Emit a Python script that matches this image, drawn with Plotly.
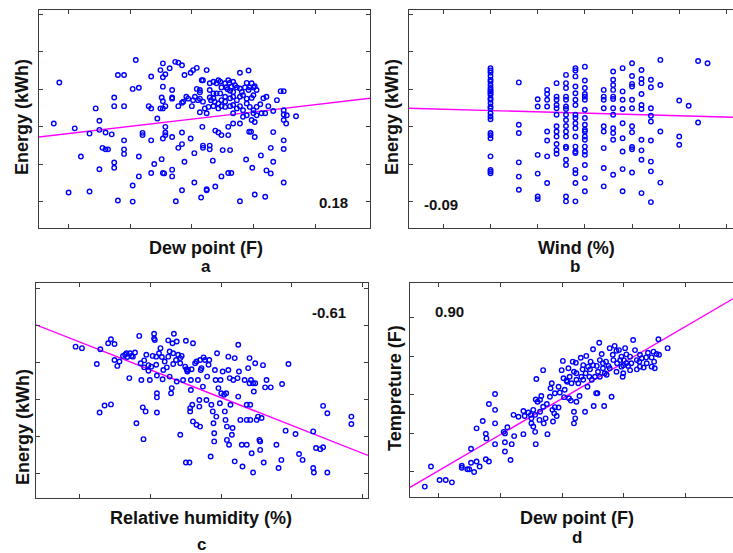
import plotly.graph_objects as go

# ---------------- Panel a: Dew point (F) vs Energy (kWh) ----------------
a_dew = [18.5,17.6,20.0,21.0,22.0,23.4,23.4,24.4,25.0,25.0,25.0,25.5,26.0,26.4,26.0,27.0,27.4,27.4,27.4,27.4,
         28.0,29.0,28.0,29.0,29.0,29.0,29.0,30.4,31.4,30.4,30.4,30.9,31.4,31.4,32.0,32.0,33.4,33.0,33.4,33.4,
         33.4,33.9,34.4,34.9,35.3,35.3,35.7,35.1,35.3,35.7,35.3,34.9,35.3,35.1,35.3,35.3,35.5,35.7,35.7,35.7,
         36.4,36.8,36.8,36.8,36.8,36.8,36.8,37.3,37.8,38.4,37.8,38.4,37.8,38.4,38.4,38.4,38.8,37.4,38.8,39.4,
         39.8,40.2,40.8,39.8,40.0,40.4,40.4,40.8,41.3,41.3,41.3,41.5,41.7,41.8,41.8,42.4,42.4,42.4,42.4,42.9,
         42.9,42.9,43.4,43.8,43.8,44.3,44.8,44.8,45.0,45.9,46.4,45.9,45.9,46.2,46.7,47.8,47.8,47.8,48.8,49.2,
         49.3,49.6,50.2,49.8,50.2,51.2,51.9,52.1,52.8,52.8,53.2,53.2,54.9,54.9,54.9,53.2,53.8,54.4,54.9,54.9,
         54.9,55.4,55.3,54.9,56.9,
         41.6,41.8,42.9,43.5,44.0,44.3,44.6,44.8,45.4,45.9,46.1,46.4,46.7,47.0,47.3,45.6,45.8,46.2,46.7,47.8,
         48.1,48.6,48.9,49.2,49.4,49.7,50.0,50.2,50.5,50.0,49.7,48.9,48.3,47.8,47.3,46.7,46.2,45.4,44.6,44.0,
         43.5,43.7,44.3,44.8,45.4,46.2,46.7,47.3,47.8,48.3,48.9,49.4,50.0,50.5,51.1,51.6,52.1,52.4,51.9,51.3,
         50.5,50.0,49.7,50.2,48.9,48.3,46.7,41.8,42.1,42.7,43.1,43.5,44.3,44.8,45.4,41.3,41.0,40.2,40.5,39.1,
         38.6,43.5,42.9]
a_energy = [51.8,40.9,22.5,39.6,32.1,22.8,38.2,44.9,41.6,39.2,28.7,34.4,34.0,34.0,38.5,38.0,47.8,45.5,30.5,29.1,
            53.8,53.8,20.4,45.5,36.4,34.0,32.8,50.1,50.4,24.4,20.1,57.8,32.1,26.8,38.4,37.8,36.4,45.5,44.9,53.4,
            27.7,30.1,42.2,55.1,56.9,53.2,54.0,47.8,46.8,45.5,44.9,44.9,50.7,31.4,36.9,27.7,27.6,40.0,38.5,37.8,
            55.6,49.8,47.8,47.5,28.6,26.8,37.3,57.3,57.1,56.4,45.5,46.4,34.4,35.4,38.5,23.1,53.8,20.2,30.7,47.5,
            54.4,55.1,55.7,36.9,45.5,25.2,33.0,50.1,49.2,47.5,43.9,21.2,40.0,35.0,34.4,23.4,23.1,55.1,43.6,47.8,
            35.0,34.0,31.0,24.1,39.0,38.5,37.8,26.8,33.8,27.7,27.7,40.0,37.8,33.8,40.9,20.2,40.9,54.4,31.3,55.0,
            38.7,38.7,37.3,29.1,22.0,32.4,21.4,28.4,27.6,34.4,30.7,38.6,25.2,36.4,34.1,44.2,47.1,49.5,49.5,44.4,
            43.3,43.1,40.9,41.8,42.8,
            52.4,52.4,51.6,52.0,51.6,52.4,52.0,50.5,51.6,52.4,51.7,50.7,52.0,51.1,50.5,50.5,50.0,49.6,49.3,50.2,
            49.3,50.5,51.7,49.8,50.5,51.6,50.5,50.8,49.8,48.4,47.7,47.5,48.4,48.0,47.1,48.0,47.6,48.0,48.9,48.9,
            47.6,46.7,46.2,45.5,45.3,45.5,45.8,44.9,45.5,44.4,46.2,45.3,44.4,45.3,46.0,47.6,48.0,45.5,43.6,43.6,
            43.1,43.6,41.8,41.3,43.1,42.7,43.6,46.7,44.9,45.3,47.1,45.5,44.9,47.1,46.7,49.8,47.1,47.1,48.0,48.0,
            46.7,48.9,49.8]
a_fit_x = [15.2, 68.9]
a_fit_y = [37.3, 47.6]
a_r = "0.18"

# ---------------- Panel b: Wind (%) vs Energy (kWh) ----------------
b_wind_levels = [20, 26, 30, 32, 34, 36, 38, 40, 44, 46, 48, 50, 52, 54, 56, 60, 62, 64, 66]
b_energy_by_level = [
    [55.6,55.0,54.4,53.5,52.5,52.0,51.1,50.3,49.8,49.4,48.9,48.5,47.6,47.2,46.3,45.4,44.9,43.6,42.7,42.0,38.3,37.7,36.9,32.1,28.5,28.1,27.6],
    [51.8,40.5,38.3,30.5,26.7,23.2],
    [47.3,45.4,32.5,27.5,21.4,20.7],
    [49.8,48.7,47.2,45.4,38.7,36.3,32.1,25.0],
    [51.6,48.0,47.2,45.8,44.9,43.2,40.1,38.7,37.4,35.4,33.8,32.8],
    [53.8,51.6,50.3,48.0,47.2,45.4,44.7,43.2,41.8,40.2,38.7,37.4,34.7,34.3,31.2,29.8,21.4,20.1],
    [55.6,55.0,53.4,50.7,48.9,47.2,45.8,43.2,42.3,40.9,39.6,37.4,34.7,33.4,33.0,28.5,27.6,25.0,20.1],
    [56.0,52.3,50.3,48.7,48.0,47.2,44.5,42.3,40.5,39.2,38.7,37.4,36.5,34.7,33.4,32.5,29.8,26.3,22.8],
    [49.8,48.0,47.2,44.9,40.1,38.7,34.3,29.0,24.1],
    [54.7,52.5,51.1,49.8,48.0,47.4,44.9,43.2,39.6,38.3,36.5,27.2],
    [55.6,49.4,47.2,44.7,40.9,36.9,33.4,28.7,22.8],
    [56.9,53.5,51.4,50.7,47.2,44.9,40.1,38.5,34.6,34.0,27.8],
    [55.1,52.7,51.6,48.7,45.8,44.7,36.5,33.7,31.2,22.3],
    [52.5,50.5,44.9,42.9,41.4,36.3,30.7,28.1,19.9],
    [57.8,51.1,38.7,25.1],
    [47.0,37.4,35.2],
    [45.6],
    [57.5,41.1],
    [56.9],
]
b_fit_x = [2.7, 71.4]
b_fit_y = [44.9, 42.5]
b_r = "-0.09"

# ---------------- Panel c: Relative humidity (%) vs Energy (kWh) ----------------
c_rh = [29.4,30.3,32.4,32.8,32.9,33.5,34.0,34.4,34.4,34.9,34.9,35.3,35.6,36.1,36.4,36.6,36.7,37.0,37.1,37.3,
        37.5,37.8,38.4,38.6,38.7,38.9,39.0,39.1,39.1,39.3,39.4,38.0,39.7,39.7,39.9,40.1,40.3,40.5,40.5,40.6,
        40.8,40.9,40.9,40.9,40.9,41.2,41.4,41.6,41.7,41.8,42.0,42.3,42.5,42.5,42.7,42.7,42.9,43.0,43.1,43.2,
        43.3,43.6,43.7,43.7,43.9,44.2,44.2,44.4,44.6,44.9,45.0,45.0,45.3,45.5,45.6,45.6,45.7,45.7,45.8,45.9,
        46.0,46.0,46.3,46.5,46.5,46.7,46.9,46.9,47.0,47.0,47.1,47.2,47.4,47.5,47.7,47.9,48.0,48.2,48.3,48.5,
        48.6,48.8,48.9,49.0,49.0,49.1,49.2,49.3,49.4,49.6,49.8,49.9,50.0,50.2,50.4,50.5,50.6,50.7,50.8,50.8,
        51.0,51.0,51.1,51.2,51.3,51.5,51.6,51.7,51.9,51.9,52.3,52.4,52.4,52.5,52.7,52.9,53.0,53.3,53.6,53.6,
        53.6,53.8,54.0,54.0,54.1,54.1,54.2,54.3,54.5,54.5,54.6,54.8,54.8,55.0,55.2,55.4,55.5,55.5,55.7,55.9,
        56.0,56.2,56.4,57.0,57.8,58.1,58.5,58.6,59.1,59.5,60.5,61.0,61.5,63.0,63.0,63.1,63.4,64.0,64.4,64.4,
        65.0,65.0,68.4,68.4,45.1,45.2,40.8,43.2,44.2]
c_energy = [54.2,53.8,49.5,36.4,53.5,38.3,55.1,56.2,38.6,54.9,50.6,49.0,50.2,51.7,52.0,52.4,51.4,45.7,52.4,51.7,
            51.5,52.6,57.1,49.7,45.2,37.8,29.2,48.6,50.5,36.7,52.0,33.5,49.2,47.7,45.2,48.8,51.7,57.7,56.4,56.0,
            49.3,46.4,41.6,40.5,36.4,52.4,53.8,51.4,45.4,47.9,50.2,48.6,55.9,51.5,52.9,46.1,41.6,43.0,55.1,49.5,
            57.7,50.6,55.6,44.8,52.0,30.4,49.7,51.7,45.2,48.8,55.8,22.9,47.9,22.9,37.6,36.7,45.2,42.5,48.1,38.5,
            55.1,34.0,49.7,50.2,33.1,45.2,39.8,38.0,32.6,50.6,47.9,48.4,43.4,51.3,50.6,39.8,46.1,49.3,50.6,24.5,
            38.5,36.7,33.5,28.6,30.8,47.9,45.2,35.3,52.4,43.0,38.9,45.2,41.6,47.5,41.2,36.7,34.4,41.6,32.6,29.0,
            51.5,47.9,27.7,45.7,38.5,30.4,32.2,45.2,51.1,23.2,45.7,40.7,54.7,47.5,34.4,27.7,21.8,45.2,27.7,38.5,
            34.4,48.4,44.3,51.1,38.5,34.4,45.2,25.4,44.3,20.2,42.1,49.7,44.3,34.4,35.3,29.0,28.6,26.3,34.9,49.2,
            22.9,43.2,45.2,43.2,27.7,21.4,23.6,44.1,31.5,49.5,30.6,25.2,23.6,31.3,21.4,20.2,26.8,26.5,27.0,38.2,
            36.2,20.2,35.3,33.3,48.1,47.5,51.5,52.4,51.1]
c_fit_x = [23.8, 70.75]
c_fit_y = [60.1, 24.8]
c_r = "-0.61"

# ---------------- Panel d: Dew point (F) vs Temperature (F) ----------------
d_dew = [17.7,18.7,20.1,21.1,22.1,23.7,23.7,24.6,24.9,25.2,25.2,25.7,26.1,26.6,27.1,26.1,27.6,27.7,27.6,28.1,
         28.1,29.1,29.1,29.1,29.1,30.5,30.7,30.7,30.7,31.1,31.6,31.8,32.1,32.2,32.9,33.7,33.7,33.9,34.5,34.9,
         35.0,35.3,35.3,35.6,35.7,35.7,35.8,36.0,36.3,36.4,36.6,36.9,37.0,37.3,37.6,38.0,38.1,38.3,38.4,38.5,
         38.7,38.8,39.1,39.4,39.6,39.9,40.1,40.3,40.4,40.7,40.8,41.0,41.1,41.4,41.7,41.9,41.9,42.1,42.2,42.3,
         42.3,42.6,42.8,43.0,43.1,43.3,43.4,43.7,43.8,43.9,44.1,44.4,44.6,44.8,45.0,45.1,45.5,45.6,45.7,45.8,
         46.0,46.1,46.4,46.6,46.8,47.1,47.2,47.5,47.7,48.0,48.2,48.5,48.8,48.9,49.2,49.4,49.6,49.8,49.9,50.0,
         50.2,50.4,50.7,51.0,51.2,51.5,51.8,52.1,52.5,52.6,52.9,53.2,53.6,53.9,54.5,54.9,55.0,55.3,55.6,55.7,
         57.1,54.8,43.4,44.2,45.0,46.1,46.9,47.7,48.8,49.6,50.4,51.0,52.1,53.7,52.6,54.5,49.9,48.3,46.6,45.3,
         44.5,42.3,41.5,41.2,41.9,40.2,39.4,38.8,37.5,36.9,36.4,35.6,35.0]
d_temp = [36.2,41.4,37.9,37.9,37.3,41.6,41.1,40.7,40.7,42.4,46.0,40.0,42.7,41.4,53.2,51.3,49.9,48.7,43.3,42.7,
          57.6,47.2,52.6,56.1,60.2,50.4,50.0,47.7,45.3,51.6,43.1,47.2,54.8,49.3,54.3,55.8,49.8,54.5,55.4,54.8,
          52.6,56.1,51.8,50.4,47.2,58.8,64.1,58.2,53.5,58.7,59.7,66.4,52.6,53.9,49.8,59.5,61.7,63.0,56.1,53.1,
          55.2,56.8,54.5,56.7,60.6,66.4,68.8,59.4,61.3,63.7,63.4,66.9,59.1,58.5,68.6,52.6,55.6,53.9,68.3,63.9,
          58.2,63.0,59.7,69.6,64.7,66.6,67.7,55.6,65.6,70.1,62.1,64.7,68.6,63.9,71.8,57.1,60.4,67.5,60.4,66.0,
          73.5,64.7,70.6,68.2,57.1,68.6,65.2,67.5,72.1,59.5,70.4,72.7,71.4,68.2,71.6,69.0,67.3,64.7,65.6,69.0,
          72.1,70.5,67.5,66.4,68.2,74.2,71.6,66.6,68.6,70.4,69.5,67.1,69.7,70.9,69.7,68.6,66.9,70.6,74.4,70.4,
          72.1,71.2,63.9,67.3,67.7,69.0,65.6,66.9,66.0,69.9,68.2,69.9,69.0,68.2,67.3,67.3,67.7,69.0,66.9,64.7,
          66.6,65.6,63.0,64.7,66.0,64.3,62.1,60.4,57.6,56.9,55.6,54.8,53.9]
d_fit_x = [15.3, 67.7]
d_fit_y = [36.0, 84.9]
d_r = "0.90"

# ---------------- Figure ----------------
W, H = 733, 553
FONT = "Liberation Sans, Arial, sans-serif"
BLUE = "#0000ff"
MAGENTA = "#ff00ff"
FRAME = "#3c3c3c"

b_wind, b_energy = [], []
for lv, vals in zip(b_wind_levels, b_energy_by_level):
    for v in vals:
        b_wind.append(lv)
        b_energy.append(v)

fig = go.Figure()

def add_panel(n, xs, ys, fx, fy):
    xa = "x" if n == 1 else f"x{n}"
    ya = "y" if n == 1 else f"y{n}"
    fig.add_trace(go.Scatter(x=fx, y=fy, mode="lines", xaxis=xa, yaxis=ya,
                             line=dict(color=MAGENTA, width=1.4), showlegend=False, hoverinfo="skip"))
    fig.add_trace(go.Scatter(x=xs, y=ys, mode="markers", xaxis=xa, yaxis=ya,
                             marker=dict(symbol="circle-open", size=4.5, color=BLUE, line=dict(width=1.4, color=BLUE)),
                             showlegend=False))

add_panel(1, a_dew, a_energy, a_fit_x, a_fit_y)
add_panel(2, b_wind, b_energy, b_fit_x, b_fit_y)
add_panel(3, c_rh, c_energy, c_fit_x, c_fit_y)
add_panel(4, d_dew, d_temp, d_fit_x, d_fit_y)

def px(x):
    return x / W

def py(y):
    return 1 - y / H

def axis(domain, rng, tick0, anchor, mirror=True):
    return dict(domain=domain, range=rng, tick0=tick0, dtick=10, tickmode="linear",
                showticklabels=False, ticks="inside", ticklen=4, tickwidth=1, tickcolor=FRAME,
                showline=True, linecolor=FRAME, linewidth=1.2, mirror=("ticks" if mirror else False),
                showgrid=False, zeroline=False, anchor=anchor)

fig.update_layout(
    width=W, height=H, margin=dict(l=0, r=0, t=0, b=0),
    paper_bgcolor="white", plot_bgcolor="white",
    xaxis=axis([px(39), px(370)], [15.2, 68.9], 20, "y"),
    yaxis=axis([py(228), py(10)], [13.07, 71.1], 20, "x"),
    xaxis2=axis([px(409), 1.0], [2.72, 71.4], 10, "y2"),
    yaxis2=axis([py(228), py(10)], [13.0, 71.1], 20, "x2", mirror=False),
    xaxis3=axis([px(36), px(368)], [23.8, 70.75], 30, "y3"),
    yaxis3=axis([py(498), py(283)], [13.3, 71.4], 20, "x3"),
    xaxis4=axis([px(410), 1.0], [15.3, 67.7], 20, "y4"),
    yaxis4=axis([py(497), py(283)], [33.5, 89.0], 40, "x4", mirror=False),
)

def ann(text, x, y, size=18, angle=0):
    fig.add_annotation(text=text, x=px(x), y=py(y), xref="paper", yref="paper",
                       xanchor="center", yanchor="middle", showarrow=False, textangle=angle,
                       font=dict(family=FONT, size=size, color="#111111", weight="bold"))

# axis titles and panel letters
ann("Dew point (F)", 206, 248)
ann("a", 206, 266, size=17)
ann("Energy (kWh)", 22, 117, angle=-90)
ann(a_r, 333, 203, size=15)

ann("Wind (%)", 576, 248)
ann("b", 575, 266, size=17)
ann("Energy (kWh)", 392, 117, angle=-90)
ann(b_r, 441, 204, size=15)

ann("Relative humidity (%)", 201, 518)
ann("c", 201, 544, size=17)
ann("Energy (kWh)", 23, 427, angle=-90)
ann(c_r, 329, 312, size=15)

ann("Dew point (F)", 577, 518)
ann("d", 577, 537, size=17)
ann("Tempreture (F)", 395, 388, angle=-90)
ann(d_r, 449, 311, size=15)

fig.write_html("out.html", config={"displayModeBar": False},
               post_script="document.body.style.margin='0px';document.body.style.overflow='hidden';")
